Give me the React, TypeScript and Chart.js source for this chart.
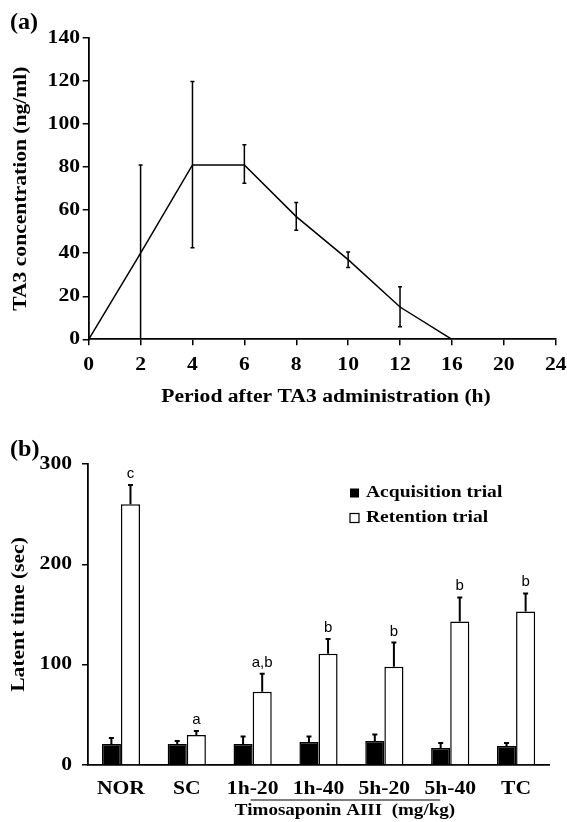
import React, { useEffect, useRef } from 'react';
import { Chart, registerables } from 'chart.js';

Chart.register(...registerables);

// ---------- Panel (a) data ----------
const timeLabels = ['0', '2', '4', '6', '8', '10', '12', '16', '20', '24'];
const concMean = [0, 40, 81, 81, 57, 37, 15, 0, null, null];
const concLow = [null, 0, 42.5, 72.5, 50.7, 33.4, 5.8, null, null, null];
const concHigh = [null, 81, 119.8, 90.4, 63.6, 40.6, 24.4, null, null, null];
const concTicks = [0, 20, 40, 60, 80, 100, 120, 140];

// ---------- Panel (b) data ----------
const groups = ['NOR', 'SC', '1h-20', '1h-40', '5h-20', '5h-40', 'TC'];
const acquisition = [21, 21, 21, 23, 24, 17, 19];
const acquisitionErr = [6, 3, 7.5, 5.5, 6.5, 5, 3];
const retention = [260, 30, 73, 111, 98, 143, 153];
const retentionErr = [19, 4, 18, 14.5, 24, 24, 18];
const retentionLetters = ['c', 'a', 'a,b', 'b', 'b', 'b', 'b'];
const latentTicks = [0, 100, 200, 300];

const SERIF = '"Liberation Serif", "Times New Roman", serif';
const SANS = '"Liberation Sans", Arial, sans-serif';
const SX = 1.2; // the original's serif lettering is set wide

function wideText(ctx: any, text: string, x: number, y: number, align: string, sx: number, rotate = 0) {
  ctx.save();
  ctx.translate(x, y);
  if (rotate) ctx.rotate(rotate);
  ctx.scale(sx, 1);
  ctx.textAlign = align;
  ctx.textBaseline = 'middle';
  ctx.fillText(text, 0, 0);
  ctx.restore();
}

function drawTickLabels(chart: any, xLabelY: number, yLabelRight: number) {
  const { ctx, scales } = chart;
  const xs = scales.x;
  const ys = scales.y;
  ctx.save();
  ctx.fillStyle = '#000';
  ctx.font = `bold 18px ${SERIF}`;
  xs.ticks.forEach((t: any, i: number) => {
    const lbl = xs.getLabelForValue(t.value);
    wideText(ctx, String(lbl), xs.getPixelForTick(i), xLabelY, 'center', SX);
  });
  ys.ticks.forEach((t: any, i: number) => {
    wideText(ctx, String(t.value), yLabelRight, ys.getPixelForTick(i), 'right', SX);
  });
  ctx.restore();
}

const panelAPlugin = {
  id: 'panelA',
  afterDatasetsDraw(chart: any) {
    const { ctx, scales } = chart;
    const xs = scales.x;
    const ys = scales.y;
    ctx.save();
    ctx.strokeStyle = '#000';
    ctx.lineWidth = 1.5;
    for (let i = 0; i < timeLabels.length; i++) {
      const lo = concLow[i];
      const hi = concHigh[i];
      if (lo === null || hi === null) continue;
      const x = xs.getPixelForValue(i);
      const y1 = ys.getPixelForValue(lo);
      const y2 = ys.getPixelForValue(hi);
      ctx.beginPath();
      ctx.moveTo(x, y1);
      ctx.lineTo(x, y2);
      ctx.moveTo(x - 2, y2);
      ctx.lineTo(x + 2, y2);
      if (lo > 0) {
        ctx.moveTo(x - 2, y1);
        ctx.lineTo(x + 2, y1);
      }
      ctx.stroke();
    }
    ctx.restore();
  },
  afterDraw(chart: any) {
    const { ctx, chartArea } = chart;
    drawTickLabels(chart, 365, 80);
    ctx.save();
    ctx.fillStyle = '#000';
    ctx.font = `bold 23px ${SERIF}`;
    wideText(ctx, '(a)', 10, 23, 'left', 1.05);
    ctx.font = `bold 18px ${SERIF}`;
    wideText(ctx, 'Period after TA3 administration (h)', 326, 397, 'center', SX);
    wideText(ctx, 'TA3 concentration (ng/ml)', 21, (chartArea.top + chartArea.bottom) / 2, 'center', SX, -Math.PI / 2);
    ctx.restore();
  },
};

const panelBPlugin = {
  id: 'panelB',
  afterDatasetsDraw(chart: any) {
    const { ctx, scales } = chart;
    const ys = scales.y;
    ctx.save();
    ctx.strokeStyle = '#000';
    ctx.lineWidth = 2;
    const sets = [
      { vals: acquisition, errs: acquisitionErr, idx: 0 },
      { vals: retention, errs: retentionErr, idx: 1 },
    ];
    sets.forEach((s) => {
      const meta = chart.getDatasetMeta(s.idx);
      meta.data.forEach((bar: any, j: number) => {
        const x = bar.x;
        const yTop = ys.getPixelForValue(s.vals[j]);
        const yErr = ys.getPixelForValue(s.vals[j] + s.errs[j]);
        ctx.beginPath();
        ctx.moveTo(x, yTop);
        ctx.lineTo(x, yErr);
        ctx.moveTo(x - 2.5, yErr);
        ctx.lineTo(x + 2.5, yErr);
        ctx.stroke();
      });
    });
    // significance letters
    const metaR = chart.getDatasetMeta(1);
    ctx.fillStyle = '#000';
    ctx.font = `15px ${SANS}`;
    ctx.textAlign = 'center';
    ctx.textBaseline = 'alphabetic';
    metaR.data.forEach((bar: any, j: number) => {
      const yErr = ys.getPixelForValue(retention[j] + retentionErr[j]);
      ctx.fillText(retentionLetters[j], bar.x, yErr - 7);
    });
    ctx.restore();
  },
  afterDraw(chart: any) {
    const { ctx, chartArea, scales } = chart;
    const xs = scales.x;
    drawTickLabels(chart, 379, 72);
    ctx.save();
    ctx.fillStyle = '#000';
    ctx.strokeStyle = '#000';
    // panel label
    ctx.font = `bold 23px ${SERIF}`;
    wideText(ctx, '(b)', 10, 40, 'left', 1.05);
    // legend
    const names = chart.data.datasets.map((d: any) => d.label);
    ctx.font = `bold 17px ${SERIF}`;
    names.forEach((n: string, i: number) => {
      const cy = 83 + i * 25;
      ctx.lineWidth = 1.2;
      if (i === 0) {
        ctx.fillStyle = '#000';
        ctx.fillRect(350, cy - 4.5, 9, 9);
      } else {
        ctx.fillStyle = '#fff';
        ctx.fillRect(350, cy - 4.5, 9, 9);
        ctx.strokeRect(350, cy - 4.5, 9, 9);
      }
      ctx.fillStyle = '#000';
      wideText(ctx, n, 366, cy, 'left', 1.15);
    });
    // y-axis title
    ctx.font = `bold 18px ${SERIF}`;
    wideText(ctx, 'Latent time (sec)', 19, (chartArea.top + chartArea.bottom) / 2, 'center', SX, -Math.PI / 2);
    // group bracket line & label
    const x1 = xs.getPixelForValue(2) - 2;
    const x2 = xs.getPixelForValue(5) - 10;
    ctx.lineWidth = 1.2;
    ctx.beginPath();
    ctx.moveTo(x1, 390);
    ctx.lineTo(x2, 390);
    ctx.stroke();
    ctx.font = `bold 16px ${SERIF}`;
    wideText(ctx, 'Timosaponin AIII  (mg/kg)', 345, 401, 'center', 1.19);
    ctx.restore();
  },
};

function PanelA() {
  const ref = useRef<HTMLCanvasElement>(null);
  useEffect(() => {
    if (!ref.current) return;
    const chart = new Chart(ref.current, {
      type: 'line',
      data: {
        labels: timeLabels,
        datasets: [
          {
            label: 'TA3',
            data: concMean,
            borderColor: '#000',
            borderWidth: 1.5,
            pointRadius: 0,
            fill: false,
            tension: 0,
          },
        ],
      },
      options: {
        responsive: false,
        animation: false,
        devicePixelRatio: 1,
        layout: { padding: { top: 38, right: 11.3, bottom: 0, left: 0 } },
        plugins: { legend: { display: false }, tooltip: { enabled: false } },
        scales: {
          x: {
            type: 'category',
            offset: false,
            grid: { drawOnChartArea: false, drawTicks: true, tickLength: 6, color: '#000', lineWidth: 1.5 },
            border: { display: true, color: '#000', width: 1.8 },
            ticks: { display: false, autoSkip: false, maxRotation: 0 },
            afterFit: (s: any) => { s.height = 70.7; },
          },
          y: {
            min: 0,
            max: 140,
            afterBuildTicks: (s: any) => { s.ticks = concTicks.map((v) => ({ value: v })); },
            grid: { drawOnChartArea: false, drawTicks: true, tickLength: 6, color: '#000', lineWidth: 1.5 },
            border: { display: true, color: '#000', width: 1.8 },
            ticks: { display: false },
            afterFit: (s: any) => { s.width = 88.7; },
          },
        },
      },
      plugins: [panelAPlugin],
    } as any);
    return () => chart.destroy();
  }, []);
  return <canvas ref={ref} width={567} height={410} style={{ display: 'block', width: 567, height: 410 }} />;
}

function PanelB() {
  const ref = useRef<HTMLCanvasElement>(null);
  useEffect(() => {
    if (!ref.current) return;
    const chart = new Chart(ref.current, {
      type: 'bar',
      data: {
        labels: groups,
        datasets: [
          {
            label: 'Acquisition trial',
            data: acquisition,
            backgroundColor: '#000',
            borderColor: '#000',
            borderWidth: 1.5,
            categoryPercentage: 0.58,
            barPercentage: 1,
          },
          {
            label: 'Retention trial',
            data: retention,
            backgroundColor: '#fff',
            borderColor: '#000',
            borderWidth: 1.5,
            categoryPercentage: 0.58,
            barPercentage: 1,
          },
        ],
      },
      options: {
        responsive: false,
        animation: false,
        devicePixelRatio: 1,
        layout: { padding: { top: 54, right: 18, bottom: 0, left: 0 } },
        plugins: { legend: { display: false }, tooltip: { enabled: false } },
        scales: {
          x: {
            type: 'category',
            offset: true,
            grid: { display: false },
            border: { display: true, color: '#000', width: 1.8 },
            ticks: { display: false, autoSkip: false, maxRotation: 0 },
            afterFit: (s: any) => { s.height = 57; },
          },
          y: {
            min: 0,
            max: 300,
            afterBuildTicks: (s: any) => { s.ticks = latentTicks.map((v) => ({ value: v })); },
            grid: { drawOnChartArea: false, drawTicks: true, tickLength: 6, color: '#000', lineWidth: 1.5 },
            border: { display: true, color: '#000', width: 1.8 },
            ticks: { display: false },
            afterFit: (s: any) => { s.width = 88; },
          },
        },
      },
      plugins: [panelBPlugin],
    } as any);
    return () => chart.destroy();
  }, []);
  return <canvas ref={ref} width={567} height={412} style={{ display: 'block', width: 567, height: 412 }} />;
}

export default function App() {
  return (
    <div style={{ position: 'absolute', left: 0, top: 0, width: 567, height: 822, background: '#fff' }}>
      <PanelA />
      <PanelB />
    </div>
  );
}
